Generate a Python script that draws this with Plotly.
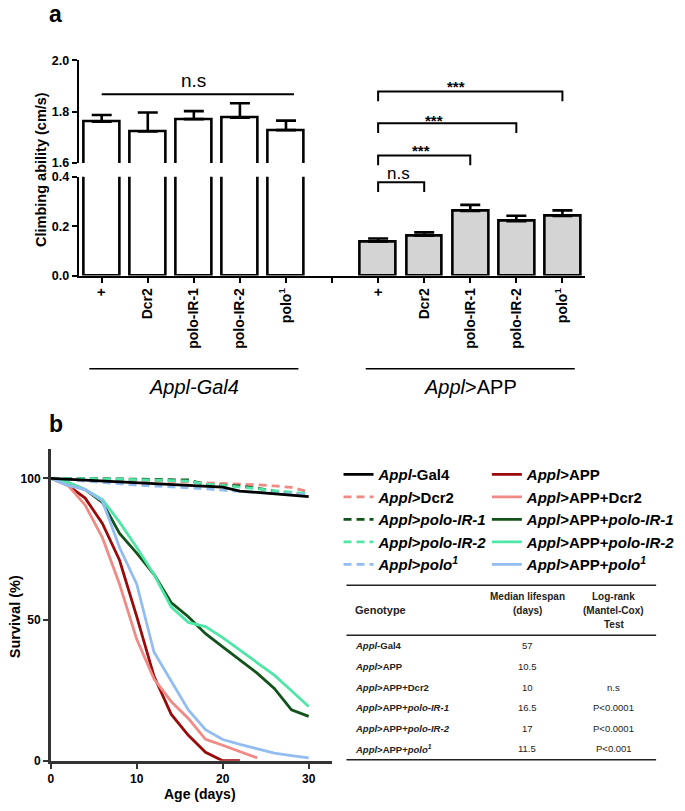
import plotly.graph_objects as go

W, H = 685, 811
FONT = "Arial, 'Liberation Sans', sans-serif"


def px(x):
    return x / W


def py(y):
    return 1 - y / H


# ---------------- Panel a data ----------------
genotype_labels = ["+", "Dcr2", "polo-IR-1", "polo-IR-2", "polo<sup>1</sup>"]
gal4_means = [1.761, 1.723, 1.771, 1.776, 1.728]
gal4_errs = [0.026, 0.074, 0.031, 0.057, 0.037]
app_means = [0.138, 0.161, 0.262, 0.220, 0.241]
app_errs = [0.012, 0.014, 0.024, 0.022, 0.023]
gal4_pos = [0, 1, 2, 3, 4]
app_pos = [6, 7, 8, 9, 10]
tick_pos = list(range(11))
tick_text = genotype_labels + [""] + genotype_labels
upper_ticks = [1.6, 1.8, 2.0]
lower_ticks = [0.0, 0.2, 0.4]

# significance comparisons in the Appl>APP group: (from, to, label)
comparisons = [(6, 7, "n.s"), (6, 8, "***"), (6, 9, "***"), (6, 10, "***")]

# ---------------- Panel b data ----------------
days = [0, 2, 4, 6, 8, 10, 12, 14, 16, 18, 20, 22, 24, 26, 28, 30]
surv_gal4 = [100, 99.7, 99.4, 99.0, 98.7, 98.4, 98.2, 97.9, 97.6, 97.3, 96.9, 95.5, 95.0, 94.5, 94.0, 93.5]
surv_dcr2 = [100, 99.9, 99.8, 99.6, 99.5, 99.3, 99.1, 98.9, 98.7, 98.5, 98.3, 98.0, 97.7, 97.3, 96.8, 95.2]
surv_ir1 = [100, 100, 100, 99.9, 99.8, 99.7, 99.6, 99.5, 99.4, 97.8, 97.6, 97.3, 96.5, 95.5, 94.8, 94.2]
surv_ir2 = [100, 100, 99.9, 99.8, 99.7, 99.6, 99.4, 99.2, 99.0, 98.0, 97.5, 97.0, 96.3, 95.6, 95.0, 94.6]
surv_polo = [100, 99.5, 99.0, 98.6, 98.2, 97.6, 97.3, 97.0, 96.7, 96.3, 95.8, 95.3, 95.0, 94.7, 94.4, 94.2]
surv_app = [100, 97.5, 93, 84, 71, 51, 30, 16.5, 9, 3, 0, 0]
surv_app_dcr2 = [100, 97.5, 90.5, 79, 62.5, 43, 29, 21, 15, 7.6, 5.5, 3.3, 1]
surv_app_ir1 = [100, 98.5, 96, 91.5, 80.5, 73.5, 66, 56, 51, 45, 40.3, 35.5, 31, 25.6, 18, 15.7]
surv_app_ir2 = [100, 98.5, 96, 92.5, 84.5, 75.5, 66, 54.5, 49, 47.5, 43.6, 39.2, 35, 30.3, 24.8, 19.2]
surv_app_polo = [100, 97.5, 96, 92, 75.5, 62.5, 38.5, 28.5, 18, 11, 7.5, 5.8, 4.2, 2.7, 1.8, 1]

# table data
table_genotypes = [
    "<i>Appl</i>-Gal4",
    "<i>Appl</i>&gt;APP",
    "<i>Appl</i>&gt;APP+Dcr2",
    "<i>Appl</i>&gt;APP+<i>polo-IR-1</i>",
    "<i>Appl</i>&gt;APP+<i>polo-IR-2</i>",
    "<i>Appl</i>&gt;APP+<i>polo<sup>1</sup></i>",
]
table_median = ["57", "10.5", "10", "16.5", "17", "11.5"]
table_logrank = ["", "", "n.s", "P&lt;0.0001", "P&lt;0.0001", "P&lt;0.001"]

C_BLACK = "#000000"
C_RED = "#9b0a0a"
C_PINK = "#f08a84"
C_DGREEN = "#11531a"
C_LGREEN = "#4fe6a8"
C_BLUE = "#93bdf0"

fig = go.Figure()

# ---------------- Panel a bars ----------------
for yax in ["y", "y2"]:
    fig.add_trace(go.Bar(
        x=gal4_pos, y=gal4_means, xaxis="x", yaxis=yax, width=0.78,
        marker=dict(color="white", line=dict(color="black", width=2.6)),
        error_y=dict(type="data", symmetric=False, array=gal4_errs,
                     arrayminus=[0] * 5, color="black", thickness=2.6, width=10),
        showlegend=False, hoverinfo="skip"))
    fig.add_trace(go.Bar(
        x=app_pos, y=app_means, xaxis="x", yaxis=yax, width=0.78,
        marker=dict(color="#d4d4d4", line=dict(color="black", width=2.6)),
        error_y=dict(type="data", symmetric=False, array=app_errs,
                     arrayminus=[0] * 5, color="black", thickness=2.6, width=10),
        showlegend=False, hoverinfo="skip"))

# ---------------- Panel b curves ----------------
controls = [
    ("<i>Appl</i>-Gal4", surv_gal4, C_BLACK, "solid"),
    ("<i>Appl</i>&gt;Dcr2", surv_dcr2, C_PINK, "8px,5px"),
    ("<i>Appl</i>&gt;<i>polo-IR-1</i>", surv_ir1, C_DGREEN, "8px,5px"),
    ("<i>Appl</i>&gt;<i>polo-IR-2</i>", surv_ir2, C_LGREEN, "8px,5px"),
    ("<i>Appl</i>&gt;<i>polo<sup>1</sup></i>", surv_polo, C_BLUE, "8px,5px"),
]
apps = [
    ("<i>Appl</i>&gt;APP", surv_app, C_RED),
    ("<i>Appl</i>&gt;APP+Dcr2", surv_app_dcr2, C_PINK),
    ("<i>Appl</i>&gt;APP+<i>polo-IR-1</i>", surv_app_ir1, C_DGREEN),
    ("<i>Appl</i>&gt;APP+<i>polo-IR-2</i>", surv_app_ir2, C_LGREEN),
    ("<i>Appl</i>&gt;APP+<i>polo<sup>1</sup></i>", surv_app_polo, C_BLUE),
]
for name, s, c, d in controls[1:]:
    fig.add_trace(go.Scatter(x=days[:len(s)], y=s, mode="lines", name=name,
                             line=dict(color=c, width=2.8, dash=d),
                             xaxis="x3", yaxis="y3", legend="legend"))
for name, s, c in apps:
    fig.add_trace(go.Scatter(x=days[:len(s)], y=s, mode="lines", name=name,
                             line=dict(color=c, width=2.8),
                             xaxis="x3", yaxis="y3", legend="legend2"))
name, s, c, d = controls[0]
fig.add_trace(go.Scatter(x=days[:len(s)], y=s, mode="lines", name=name,
                         line=dict(color=c, width=2.8, dash=d),
                         xaxis="x3", yaxis="y3", legend="legend",
                         legendrank=1))

axis_common = dict(showgrid=False, zeroline=False, showline=True,
                   linecolor="black", linewidth=2, ticks="outside",
                   tickcolor="black", tickwidth=2, ticklen=5)

X0A, X1A = 76, 585
fig.update_layout(
    width=W, height=H, autosize=False,
    margin=dict(l=0, r=0, t=0, b=0),
    paper_bgcolor="white", plot_bgcolor="rgba(0,0,0,0)",
    font=dict(family=FONT, color="black"),
    bargap=0,
    xaxis=dict(domain=[px(X0A), px(X1A)], range=[-0.5, 10.5], anchor="y2",
               tickvals=tick_pos, ticktext=tick_text, tickangle=-90,
               tickfont=dict(size=14, family=FONT, weight="bold"),
               **axis_common),
    yaxis=dict(domain=[py(158.7), py(54.3)], range=[1.6, 2.0], anchor="x",
               tickvals=upper_ticks, ticktext=[f"{v:.1f}" for v in upper_ticks],
               tickfont=dict(size=12.5, family=FONT, weight="bold"),
               **axis_common),
    yaxis2=dict(domain=[py(273.3), py(172.7)], range=[0, 0.4], anchor="x",
                tickvals=lower_ticks, ticktext=[f"{v:.1f}" for v in lower_ticks],
                tickfont=dict(size=12.5, family=FONT, weight="bold"),
                **axis_common),
    xaxis3=dict(domain=[px(48), px(330)], range=[0, 32.66], anchor="y3",
                tickvals=[0, 10, 20, 30],
                tickfont=dict(size=12, family=FONT, weight="bold"),
                **{**axis_common, "linewidth": 2.5, "linecolor": "#333",
                   "tickcolor": "#333"}),
    yaxis3=dict(domain=[py(767), py(450)], range=[0, 110.3], anchor="x3",
                tickvals=[0, 50, 100],
                tickfont=dict(size=12, family=FONT, weight="bold"),
                **{**axis_common, "linewidth": 2.5, "linecolor": "#333",
                   "tickcolor": "#333"}),
    legend=dict(x=px(337), y=py(459), xanchor="left", yanchor="top",
                bgcolor="rgba(0,0,0,0)", tracegroupgap=0,
                font=dict(size=15, family=FONT, weight="bold", color="black")),
    legend2=dict(x=px(486), y=py(459), xanchor="left", yanchor="top",
                 bgcolor="rgba(0,0,0,0)", tracegroupgap=0,
                 font=dict(size=15, family=FONT, weight="bold", color="black")),
)

step = (X1A - X0A) / 11.0


def cat_px(i):
    return X0A + (i + 0.5) * step


shapes = []
annotations = []


def note(text, x, y, size, bold=False, angle=0, xanchor="center",
         color="black"):
    f = dict(size=size, family=FONT, color=color)
    if bold:
        f["weight"] = "bold"
    annotations.append(dict(text=text, xref="paper", yref="paper",
                            x=px(x), y=py(y), xanchor=xanchor,
                            yanchor="middle", textangle=angle,
                            showarrow=False, font=f))


# n.s across Appl-Gal4 group
shapes.append(dict(type="line", xref="paper", yref="paper",
                   x0=px(cat_px(0)), x1=px(cat_px(4) + 8),
                   y0=py(88.7), y1=py(88.7), line=dict(color="black", width=2)))
note("n.s", (cat_px(0) + cat_px(4)) / 2, 75, 19)

# brackets in Appl>APP group
bracket_levels = [178.3, 151.0, 118.3, 86.0]
label_offsets = [(20, 9), (43, 7), (56, 5), (78, 7)]
for (a, b, lab), yl, (dx, dy) in zip(comparisons, bracket_levels, label_offsets):
    xa, xb = cat_px(a), cat_px(b)
    shapes.append(dict(type="path", xref="paper", yref="paper",
                       path=f"M {px(xa)},{py(yl + 10)} L {px(xa)},{py(yl)} "
                            f"L {px(xb)},{py(yl)} L {px(xb)},{py(yl + 10)}",
                       line=dict(color="black", width=2)))
    if lab == "n.s":
        note(lab, xa + dx, yl - dy, 17)
    else:
        note(lab, xa + dx, yl - dy + 2, 15, bold=True)

# group lines & labels
for first, last, lab in [(0, 4, "<i>Appl-Gal4</i>"), (6, 10, "<i>Appl</i>&gt;APP")]:
    c = (cat_px(first) + cat_px(last)) / 2
    shapes.append(dict(type="line", xref="paper", yref="paper",
                       x0=px(c - 105), x1=px(c + 105), y0=py(368), y1=py(368),
                       line=dict(color="black", width=1.5)))
    note(lab, c, 387, 20)

# axis titles & panel letters
note("a", 53, 7, 23, bold=True)
note("b", 53, 424, 23, bold=True)
note("Climbing ability (cm/s)", 38, 165, 14.5, bold=True, angle=-90)
note("Survival (%)", 12, 620, 14.5, bold=True, angle=-90)
note("Age (days)", 198, 801, 14, bold=True)

# table
TX0, TX1 = 345, 656
for yl in [588.3, 639.3, 766]:
    shapes.append(dict(type="line", xref="paper", yref="paper",
                       x0=px(TX0), x1=px(TX1), y0=py(yl), y1=py(yl),
                       line=dict(color="#222", width=1.5)))
col_med, col_lr = 526.7, 613.3
note("Genotype", 352, 613.5, 11, bold=True, xanchor="left", color="#222")
note("Median lifespan", col_med, 600, 10, bold=True, color="#222")
note("(days)", col_med, 614, 10, bold=True, color="#222")
note("Log-rank", col_lr, 600, 10, bold=True, color="#222")
note("(Mantel-Cox)", col_lr, 614.5, 10, bold=True, color="#222")
note("Test", col_lr, 628.7, 10, bold=True, color="#222")
for i, (g, m, p) in enumerate(zip(table_genotypes, table_median, table_logrank)):
    yy = 650 + i * 21
    note(g, 352, yy, 9.5, bold=True, xanchor="left", color="#222")
    note(m, col_med, yy, 9.5, color="#222")
    if p:
        note(p, col_lr, yy, 9.5, color="#222")

fig.update_layout(shapes=shapes, annotations=annotations)
fig.write_html("out.html",
               config={"displayModeBar": False},
               post_script="document.body.style.margin='0';"
                           "document.body.style.padding='0';")
